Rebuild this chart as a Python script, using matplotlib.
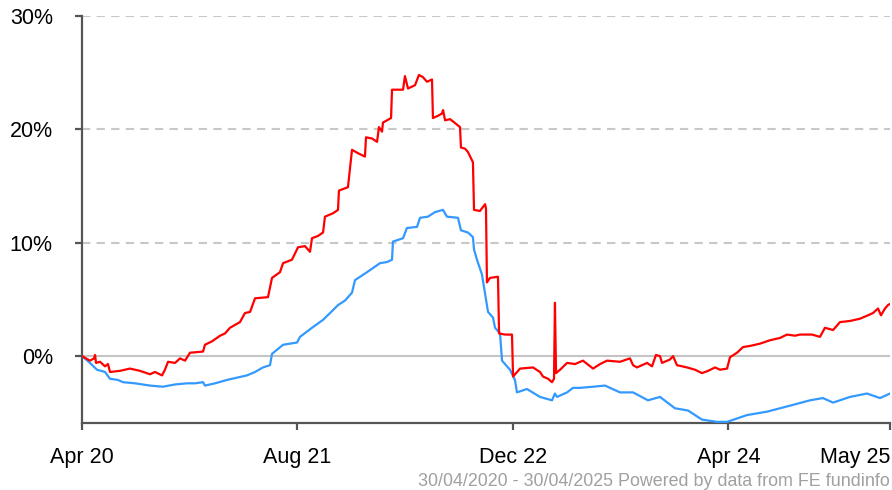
import numpy as np
import matplotlib.pyplot as plt

# x = months since 30/04/2020, y = cumulative performance (%)
red_m = [0.0, 0.59, 0.89, 0.97, 1.04, 1.34, 1.71, 1.93, 2.08, 2.82, 3.56, 4.31, 5.05, 5.42,
         5.94, 6.16, 6.39, 6.91, 7.28, 7.65, 8.02, 8.99, 9.13, 9.65, 10.25, 10.62, 10.99,
         11.73, 12.10, 12.48, 12.85, 13.81, 14.11, 14.70, 14.93, 15.59, 16.04, 16.56, 16.93,
         17.08, 17.52, 17.90, 18.04, 18.64, 19.01, 19.08, 19.75, 20.05, 20.49, 21.01, 21.09,
         21.53, 21.91, 22.05, 22.28, 22.35, 22.95, 23.02, 23.84, 23.98, 24.21, 24.73, 25.02,
         25.32, 25.62, 25.99, 26.06, 26.44, 26.73, 26.81, 26.96, 27.33, 27.55, 28.07, 28.14,
         28.44, 28.66, 29.03, 29.11, 29.55, 29.93, 30.00, 30.07, 30.30, 30.89, 30.97, 31.41,
         31.93, 32.01, 32.53, 33.49, 34.01, 34.23, 34.61, 34.90, 35.05, 35.12, 35.20, 35.50,
         36.02, 36.61, 37.20, 37.95, 38.47, 38.99, 39.95, 40.69, 40.92, 41.21, 41.96, 42.33,
         42.62, 42.92, 43.07, 43.66, 43.89, 44.18, 44.93, 45.52, 46.04, 46.49, 47.01, 47.38,
         47.90, 48.12, 48.64, 49.09, 49.61, 50.35, 51.09, 51.83, 52.35, 52.95, 53.32, 54.21,
         54.80, 55.17, 55.77, 56.29, 57.03, 57.77, 58.37, 58.74, 59.11, 59.33, 59.63, 59.85, 60.0]
red_v = [0.0, -0.4, -0.2, 0.1, -0.6, -0.5, -0.9, -0.7, -1.4, -1.3, -1.1, -1.3, -1.6, -1.4,
         -1.7, -1.2, -0.5, -0.6, -0.2, -0.4, 0.3, 0.4, 1.0, 1.3, 1.8, 2.0, 2.5,
         3.0, 3.8, 3.9, 5.1, 5.2, 6.9, 7.4, 8.2, 8.5, 9.6, 9.7, 9.2,
         10.4, 10.6, 10.9, 12.3, 12.6, 12.9, 14.6, 14.9, 18.2, 17.9, 17.6, 19.3,
         19.2, 18.9, 20.2, 19.8, 20.6, 21.0, 23.5, 23.5, 24.7, 23.6, 23.9, 24.8,
         24.6, 24.2, 24.4, 21.0, 21.2, 21.4, 21.7, 20.8, 20.9, 20.7, 20.2, 18.4,
         18.3, 18.0, 17.1, 12.9, 12.8, 13.4, 13.0, 6.5, 6.9, 7.0, 2.0, 1.9,
         1.9, -1.8, -1.1, -1.0, -1.4, -1.8, -2.0, -2.3, -2.0, 4.7, -1.5, -1.2,
         -0.6, -0.7, -0.4, -1.1, -0.7, -0.4, -0.5, -0.2, -0.8, -1.0, -0.6, -0.9,
         0.1, 0.0, -0.6, -0.3, 0.0, -0.8, -1.0, -1.2, -1.5, -1.3, -1.0, -1.2,
         -1.1, -0.1, 0.3, 0.8, 0.9, 1.1, 1.4, 1.6, 1.9, 1.8, 1.9, 1.9,
         1.7, 2.5, 2.3, 3.0, 3.1, 3.3, 3.6, 3.8, 4.2, 3.6, 4.2, 4.5, 4.6]

blue_m = [0.0, 0.59, 1.11, 1.71, 2.08, 2.67, 3.04, 3.94, 5.05, 6.01, 6.91, 7.80, 8.39, 8.99,
          9.13, 9.88, 10.77, 11.51, 12.25, 12.85, 13.44, 13.96, 14.11, 14.93, 15.97, 16.19,
          17.08, 17.90, 18.42, 19.01, 19.53, 20.05, 20.27, 21.16, 22.13, 22.65, 23.02, 23.09,
          23.84, 24.13, 24.88, 25.10, 25.69, 26.21, 26.81, 27.10, 27.92, 28.14, 28.66, 29.03,
          29.11, 29.33, 29.70, 30.15, 30.52, 30.67, 31.04, 31.19, 31.78, 32.15, 32.30, 33.04,
          34.01, 34.90, 35.12, 35.27, 36.02, 36.46, 36.98, 37.95, 38.84, 39.95, 40.92, 42.03,
          42.92, 44.03, 45.00, 46.04, 47.15, 47.90, 49.38, 50.87, 52.80, 54.06, 55.02, 55.77,
          57.03, 58.29, 59.26, 60.0]
blue_v = [0.0, -0.6, -1.2, -1.4, -2.0, -2.1, -2.3, -2.4, -2.6, -2.7, -2.5, -2.4, -2.4, -2.3,
          -2.6, -2.4, -2.1, -1.9, -1.7, -1.4, -1.0, -0.8, 0.2, 1.0, 1.2, 1.7,
          2.5, 3.2, 3.8, 4.5, 4.9, 5.6, 6.7, 7.4, 8.2, 8.3, 8.5, 10.1,
          10.4, 11.3, 11.4, 12.2, 12.3, 12.7, 12.9, 12.3, 12.2, 11.1, 10.9, 10.5,
          9.4, 8.5, 7.2, 3.9, 3.4, 2.5, 2.0, -0.4, -1.2, -2.1, -3.2, -2.9,
          -3.6, -3.9, -3.3, -3.6, -3.2, -2.8, -2.8, -2.7, -2.6, -3.2, -3.2, -3.9,
          -3.6, -4.6, -4.8, -5.6, -5.8, -5.8, -5.2, -4.9, -4.3, -3.9, -3.7, -4.1,
          -3.6, -3.3, -3.7, -3.3]

tick_pos = [0, 16, 32, 48, 60]
tick_lab = ['Apr 20', 'Aug 21', 'Dec 22', 'Apr 24', 'May 25']
y_ticks = [0, 10, 20, 30]

plt.rcParams['font.family'] = ['Liberation Sans', 'DejaVu Sans']

fig = plt.figure(figsize=(8.92, 4.9), dpi=100)
ax = fig.add_axes([82/892, 1-423/490, 808/892, 407/490])

for y in [10, 20, 30]:
    ax.axhline(y, color='#c8c8c8', lw=1.5, ls=(0, (4, 3)), zorder=1)
ax.axhline(0, color='#c4c4c4', lw=1.5, zorder=1)

ax.plot(blue_m, blue_v, color='#3399ff', lw=1.6, zorder=3)
ax.plot(red_m, red_v, color='#ff0000', lw=1.6, zorder=4)

ax.set_xlim(0, 60)
ax.set_ylim(-5.9, 30)
ax.set_xticks(tick_pos)
ax.set_xticklabels(tick_lab)
ax.set_yticks(y_ticks)
ax.set_yticklabels([f'{v}%' for v in y_ticks])
ax.get_xticklabels()[-1].set_ha('right')
ax.get_xticklabels()[-1].set_x(60)

for s in ['top', 'right']:
    ax.spines[s].set_visible(False)
for s in ['left', 'bottom']:
    ax.spines[s].set_color('#555555')
    ax.spines[s].set_linewidth(1.6)
ax.tick_params(axis='both', colors='#555555', width=1.6, length=5, labelsize=15.5, labelcolor='black')
ax.tick_params(axis='y', pad=16)
ax.tick_params(axis='x', pad=12)

fig.text(890/892, 1-481/490, '30/04/2020 - 30/04/2025 Powered by data from FE fundinfo',
         ha='right', va='center', fontsize=12.9, color='#a0a0a0')

fig.savefig('out.png', dpi=100)
